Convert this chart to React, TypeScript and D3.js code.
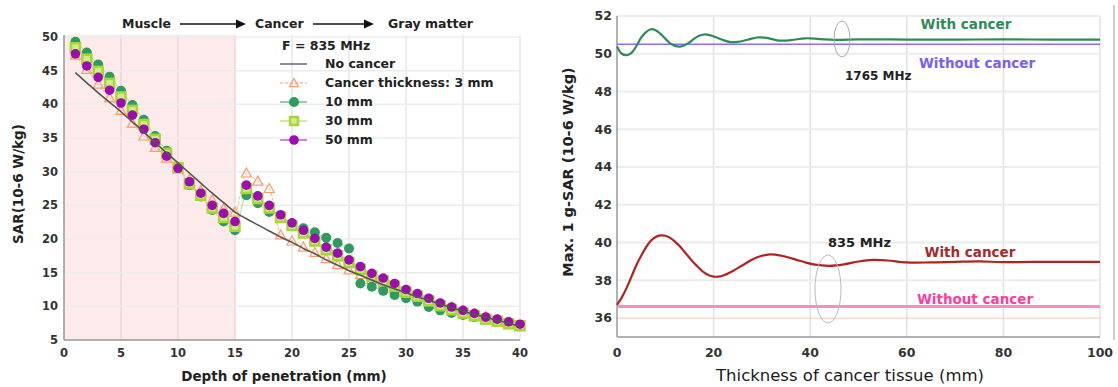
import React from "react";
import * as d3 from "d3";

// left panel: SAR vs depth, F = 835 MHz
const depth = [1, 2, 3, 4, 5, 6, 7, 8, 9, 10, 11, 12, 13, 14, 15, 16, 17, 18, 19, 20,
    21, 22, 23, 24, 25, 26, 27, 28, 29, 30, 31, 32, 33, 34, 35, 36, 37, 38, 39, 40];
const noCancer = [44.7, 43.2, 41.7, 40.3, 38.9, 37.4, 35.9, 34.3, 32.8, 31.3, 29.8, 28.3, 26.8, 25.4, 24.0,
    23.0, 22.1, 21.2, 20.3, 19.5, 18.6, 17.8, 16.9, 16.1, 15.3, 14.6, 13.9, 13.2, 12.6, 12.0,
    11.4, 10.9, 10.3, 9.8, 9.3, 8.8, 8.4, 7.9, 7.5, 7.0];
const cancer3 = [47.3, 45.2, 43.0, 41.0, 39.1, 37.2, 35.3, 33.6, 32.0, 30.4, 28.8, 27.2, 25.8, 24.5, 24.0,
    29.8, 28.6, 27.5, 20.6, 19.7, 18.8, 18.0, 17.1, 16.2, 15.4, 14.7, 14.0, 13.3, 12.7, 12.1,
    11.5, 11.0, 10.4, 9.9, 9.4, 8.9, 8.5, 8.0, 7.6, 7.1];
const cancer10 = [49.3, 47.7, 45.9, 44.1, 42.0, 39.9, 37.7, 35.3, 33.1, 30.7, 28.0, 26.3, 24.3, 22.6, 21.3,
    26.5, 25.3, 24.0, 23.2, 22.3, 21.6, 21.0, 20.2, 19.4, 18.6, 13.4, 12.9, 12.3, 11.7, 11.2,
    10.7, 9.9, 9.4, 9.0, 8.7, 8.4, 8.1, 7.8, 7.5, 7.2];
const cancer30 = [48.4, 46.7, 44.9, 43.1, 41.1, 39.1, 37.0, 34.8, 32.7, 30.6, 28.2, 26.5, 24.6, 23.2, 21.9,
    27.5, 26.0, 24.6, 23.2, 22.0, 20.9, 19.7, 18.4, 17.5, 16.5, 15.5, 14.5, 13.8, 13.0, 12.1,
    11.5, 10.8, 10.1, 9.5, 9.0, 8.6, 8.1, 7.8, 7.4, 7.1];
const cancer50 = [47.5, 45.7, 44.0, 42.1, 40.2, 38.4, 36.3, 34.3, 32.3, 30.5, 28.5, 26.8, 25.0, 23.8, 22.6,
    28.0, 26.4, 25.0, 23.6, 22.4, 21.3, 20.1, 18.8, 17.9, 16.9, 15.9, 14.9, 14.2, 13.4, 12.5,
    11.9, 11.2, 10.5, 9.9, 9.4, 8.95, 8.4, 8.1, 7.7, 7.35];
const leftXTicks = [0, 5, 10, 15, 20, 25, 30, 35, 40];
const leftYTicks = [5, 10, 15, 20, 25, 30, 35, 40, 45, 50];

// right panel: max 1 g-SAR vs cancer thickness
const thick1765 = [0, 1, 2, 3, 4, 5, 6, 7, 8, 9, 10, 11, 12, 13, 14, 15, 16, 17, 18, 19, 20,
    22, 23.5, 25, 27, 29, 31, 33.5, 36, 39, 42, 45, 50, 55, 60, 70, 80, 90, 100];
const with1765 = [50.38, 50.0, 49.93, 50.05, 50.4, 50.85, 51.15, 51.3, 51.25, 51.05, 50.8, 50.55, 50.42,
    50.38, 50.45, 50.6, 50.8, 50.95, 51.02, 51.0, 50.92, 50.72, 50.62, 50.63, 50.74, 50.86, 50.84,
    50.7, 50.72, 50.82, 50.78, 50.74, 50.76, 50.76, 50.75, 50.75, 50.76, 50.75, 50.75];
const without1765 = 50.5;
const thick835 = [0, 1, 2, 3, 4, 5, 6, 7, 8, 9, 10, 11, 12, 13, 14, 15, 16, 17, 18, 19, 20, 21, 22,
    24, 26, 28, 30, 31.7, 33, 35, 37, 39, 41, 44, 47, 50, 53, 56, 60, 65, 70, 75, 80, 90, 100];
const with835 = [36.7, 37.1, 37.6, 38.2, 38.8, 39.3, 39.75, 40.1, 40.3, 40.38, 40.36, 40.25, 40.05, 39.8,
    39.5, 39.2, 38.9, 38.65, 38.42, 38.27, 38.2, 38.2, 38.26, 38.5, 38.8, 39.1, 39.3, 39.38, 39.35,
    39.25, 39.1, 38.95, 38.83, 38.77, 38.85, 39.0, 39.08, 39.05, 38.95, 38.95, 38.98, 39.0, 38.97,
    38.98, 38.98];
const without835 = 36.62;
const rightXTicks = [0, 20, 40, 60, 80, 100];
const rightYTicks = [36, 38, 40, 42, 44, 46, 48, 50, 52];

const FONT = "'DejaVu Sans', Verdana, sans-serif";
const C_TRI = "#ff9a6a";
const C_10 = "#2f9b5e";
const C_30 = "#a6d63a";
const C_50 = "#9c0cb0";

function Triangle({ x, y, s = 5 }: { x: number; y: number; s?: number }) {
    return (
        <path
            d={`M${x},${y - s}L${x + s},${y + s * 0.8}L${x - s},${y + s * 0.8}Z`}
            fill="none"
            stroke={C_TRI}
            strokeWidth={1.2}
        />
    );
}

function Square({ x, y, s = 4.5 }: { x: number; y: number; s?: number }) {
    return (
        <rect x={x - s} y={y - s} width={s * 2} height={s * 2} fill="#d4ec8a" stroke={C_30} strokeWidth={2.5} />
    );
}

function LeftChart() {
    const x = d3.scaleLinear().domain([0, 40]).range([64, 520]);
    const y = d3.scaleLinear().domain([5, 50]).range([340, 37]);
    const top = 35;
    const line = d3.line<number>().x((_, i) => x(depth[i])).y(d => y(d)).curve(d3.curveMonotoneX);
    const pts = (arr: number[]) => arr.map((v, i) => [x(depth[i]), y(v)] as [number, number]);

    return (
        <g fontFamily={FONT}>
            <rect x={x(0)} y={top} width={x(15) - x(0)} height={y(5) - top} fill="#fdeaea" />
            {leftXTicks.slice(1).map(t => (
                <line key={"vx" + t} x1={x(t)} x2={x(t)} y1={top} y2={y(5)} stroke={t <= 15 ? "#ecd6d8" : "#e6e6e6"} strokeWidth={1.5} />
            ))}
            {leftYTicks.slice(1).map(t => (
                <line key={"hy" + t} x1={x(0)} x2={x(40)} y1={y(t)} y2={y(t)} stroke="#ececec" strokeWidth={1.5} />
            ))}
            <line x1={x(0)} x2={x(0)} y1={top} y2={y(5)} stroke="#999" strokeWidth={1.5} />
            <line x1={x(0)} x2={x(40)} y1={y(5)} y2={y(5)} stroke="#999" strokeWidth={1.5} />

            {leftYTicks.map(t => (
                <text key={"ly" + t} x={58} y={y(t)} dy="0.35em" textAnchor="end" fontSize={11.5} fontWeight="bold" fill="#333">{t}</text>
            ))}
            {leftXTicks.map(t => (
                <text key={"lx" + t} x={x(t)} y={357} textAnchor="middle" fontSize={11.5} fontWeight="bold" fill="#333">{t}</text>
            ))}
            <text x={284} y={381} textAnchor="middle" fontSize={13.5} fontWeight="bold" fill="#222">Depth of penetration (mm)</text>
            <text transform="translate(23,184) rotate(-90)" textAnchor="middle" fontSize={13.5} fontWeight="bold" fill="#222">SAR(10-6 W/kg)</text>

            {/* region labels */}
            <text x={122} y={28} fontSize={12.5} fontWeight="bold" fill="#222">Muscle</text>
            <line x1={180} x2={238} y1={24} y2={24} stroke="#111" strokeWidth={1.3} />
            <path d="M236,19.5L246,24L236,28.5Z" fill="#111" />
            <text x={255} y={28} fontSize={12.5} fontWeight="bold" fill="#222">Cancer</text>
            <line x1={313} x2={366} y1={24} y2={24} stroke="#111" strokeWidth={1.3} />
            <path d="M364,19.5L374,24L364,28.5Z" fill="#111" />
            <text x={388} y={28} fontSize={12.5} fontWeight="bold" fill="#222">Gray matter</text>

            {/* series */}
            <path d={line(cancer3) ?? ""} fill="none" stroke={C_TRI} strokeWidth={0.8} strokeDasharray="3,2" />
            <path d={line(cancer10) ?? ""} fill="none" stroke={C_10} strokeWidth={0.6} opacity={0.5} />
            <path d={line(cancer30) ?? ""} fill="none" stroke={C_30} strokeWidth={0.6} opacity={0.5} />
            {pts(cancer3).map(([px, py], i) => <Triangle key={"t" + i} x={px} y={py} />)}
            {pts(cancer10).map(([px, py], i) => <circle key={"g" + i} cx={px} cy={py} r={5} fill={C_10} />)}
            {pts(cancer30).map(([px, py], i) => <Square key={"s" + i} x={px} y={py} />)}
            {pts(cancer50).map(([px, py], i) => <circle key={"p" + i} cx={px} cy={py} r={4.8} fill={C_50} />)}
            <path d={line(noCancer) ?? ""} fill="none" stroke="#555" strokeWidth={1.6} />

            {/* legend */}
            <g fontSize={12.5} fontWeight="bold" fill="#222">
                <text x={282} y={50}>F = 835 MHz</text>
                <line x1={280} x2={307} y1={64} y2={64} stroke="#444" strokeWidth={1.2} />
                <text x={325} y={68}>No cancer</text>
                <line x1={280} x2={307} y1={83} y2={83} stroke={C_TRI} strokeWidth={1} strokeDasharray="3,2" />
                <Triangle x={294} y={83} s={4.5} />
                <text x={325} y={87}>Cancer thickness: 3 mm</text>
                <line x1={280} x2={307} y1={102} y2={102} stroke={C_10} strokeWidth={1} />
                <circle cx={294} cy={102} r={5} fill={C_10} />
                <text x={325} y={106}>10 mm</text>
                <line x1={280} x2={307} y1={121} y2={121} stroke={C_30} strokeWidth={1} />
                <Square x={294} y={121} s={4} />
                <text x={325} y={125}>30 mm</text>
                <line x1={280} x2={307} y1={140} y2={140} stroke={C_50} strokeWidth={1} />
                <circle cx={294} cy={140} r={4.8} fill={C_50} />
                <text x={325} y={144}>50 mm</text>
            </g>
        </g>
    );
}

function RightChart() {
    const x = d3.scaleLinear().domain([0, 100]).range([617, 1100]);
    const y = d3.scaleLinear().domain([35, 52]).range([337, 16]);
    const l1765 = d3.line<number>().x((_, i) => x(thick1765[i])).y(d => y(d)).curve(d3.curveCatmullRom);
    const l835 = d3.line<number>().x((_, i) => x(thick835[i])).y(d => y(d)).curve(d3.curveCatmullRom);

    return (
        <g fontFamily={FONT}>
            {rightXTicks.slice(1).map(t => (
                <line key={"vx" + t} x1={x(t)} x2={x(t)} y1={y(52)} y2={y(35)} stroke="#e2e2e2" strokeWidth={1.5} />
            ))}
            {rightYTicks.map(t => (
                <line key={"hy" + t} x1={x(0)} x2={x(100)} y1={y(t)} y2={y(t)} stroke={t === 36 ? "#f5c8b0" : "#ececec"} strokeWidth={t === 36 ? 1 : 2} />
            ))}
            <line x1={x(0)} x2={x(0)} y1={y(52)} y2={y(35)} stroke="#999" strokeWidth={1.5} />
            <line x1={x(0)} x2={x(100)} y1={y(35)} y2={y(35)} stroke="#999" strokeWidth={1.5} />
            <line x1={1114} x2={1114} y1={5} y2={340} stroke="#bbb" strokeWidth={1.5} />

            {rightYTicks.map(t => (
                <text key={"ry" + t} x={612} y={y(t)} dy="0.35em" textAnchor="end" fontSize={12.5} fontWeight="bold" fill="#333">{t}</text>
            ))}
            {rightXTicks.map(t => (
                <text key={"rx" + t} x={x(t)} y={357} textAnchor="middle" fontSize={12.5} fontWeight="bold" fill="#333">{t}</text>
            ))}
            <text x={850} y={381} textAnchor="middle" fontSize={16.5} fill="#1a1a1a">Thickness of cancer tissue (mm)</text>
            <text transform="translate(573,172) rotate(-90)" textAnchor="middle" fontSize={14.5} fontWeight="bold" fill="#222">Max. 1 g-SAR (10-6 W/kg)</text>

            <line x1={x(0)} x2={x(100)} y1={y(without1765)} y2={y(without1765)} stroke="#8a6cff" strokeWidth={1.5} />
            <path d={l1765(with1765) ?? ""} fill="none" stroke="#2e8b57" strokeWidth={2.2} />
            <line x1={x(0)} x2={x(100)} y1={y(without835)} y2={y(without835)} stroke="#ff8cc0" strokeWidth={3} />
            <path d={l835(with835) ?? ""} fill="none" stroke="#b22222" strokeWidth={2.2} />

            <ellipse cx={842} cy={39} rx={8} ry={18} fill="none" stroke="#aaa" strokeWidth={1} />
            <ellipse cx={828} cy={289} rx={13} ry={34} fill="none" stroke="#bbb" strokeWidth={1} />

            <g fontSize={13.5} fontWeight="bold">
                <text x={966} y={29} textAnchor="middle" fill="#2e8b57">With cancer</text>
                <text x={977} y={68} textAnchor="middle" fill="#7b5cff">Without cancer</text>
                <text x={845} y={80} fontSize={12} fill="#222">1765 MHz</text>
                <text x={828} y={247} fontSize={13} fill="#222">835 MHz</text>
                <text x={970} y={257} textAnchor="middle" fill="#a52a2a">With cancer</text>
                <text x={975} y={304} textAnchor="middle" fill="#ff3d9a">Without cancer</text>
            </g>
        </g>
    );
}

export default function App() {
    return (
        <svg
            width={1118}
            height={387}
            style={{ position: "absolute", left: 0, top: 0, background: "#fff" }}
        >
            <LeftChart />
            <RightChart />
        </svg>
    );
}
